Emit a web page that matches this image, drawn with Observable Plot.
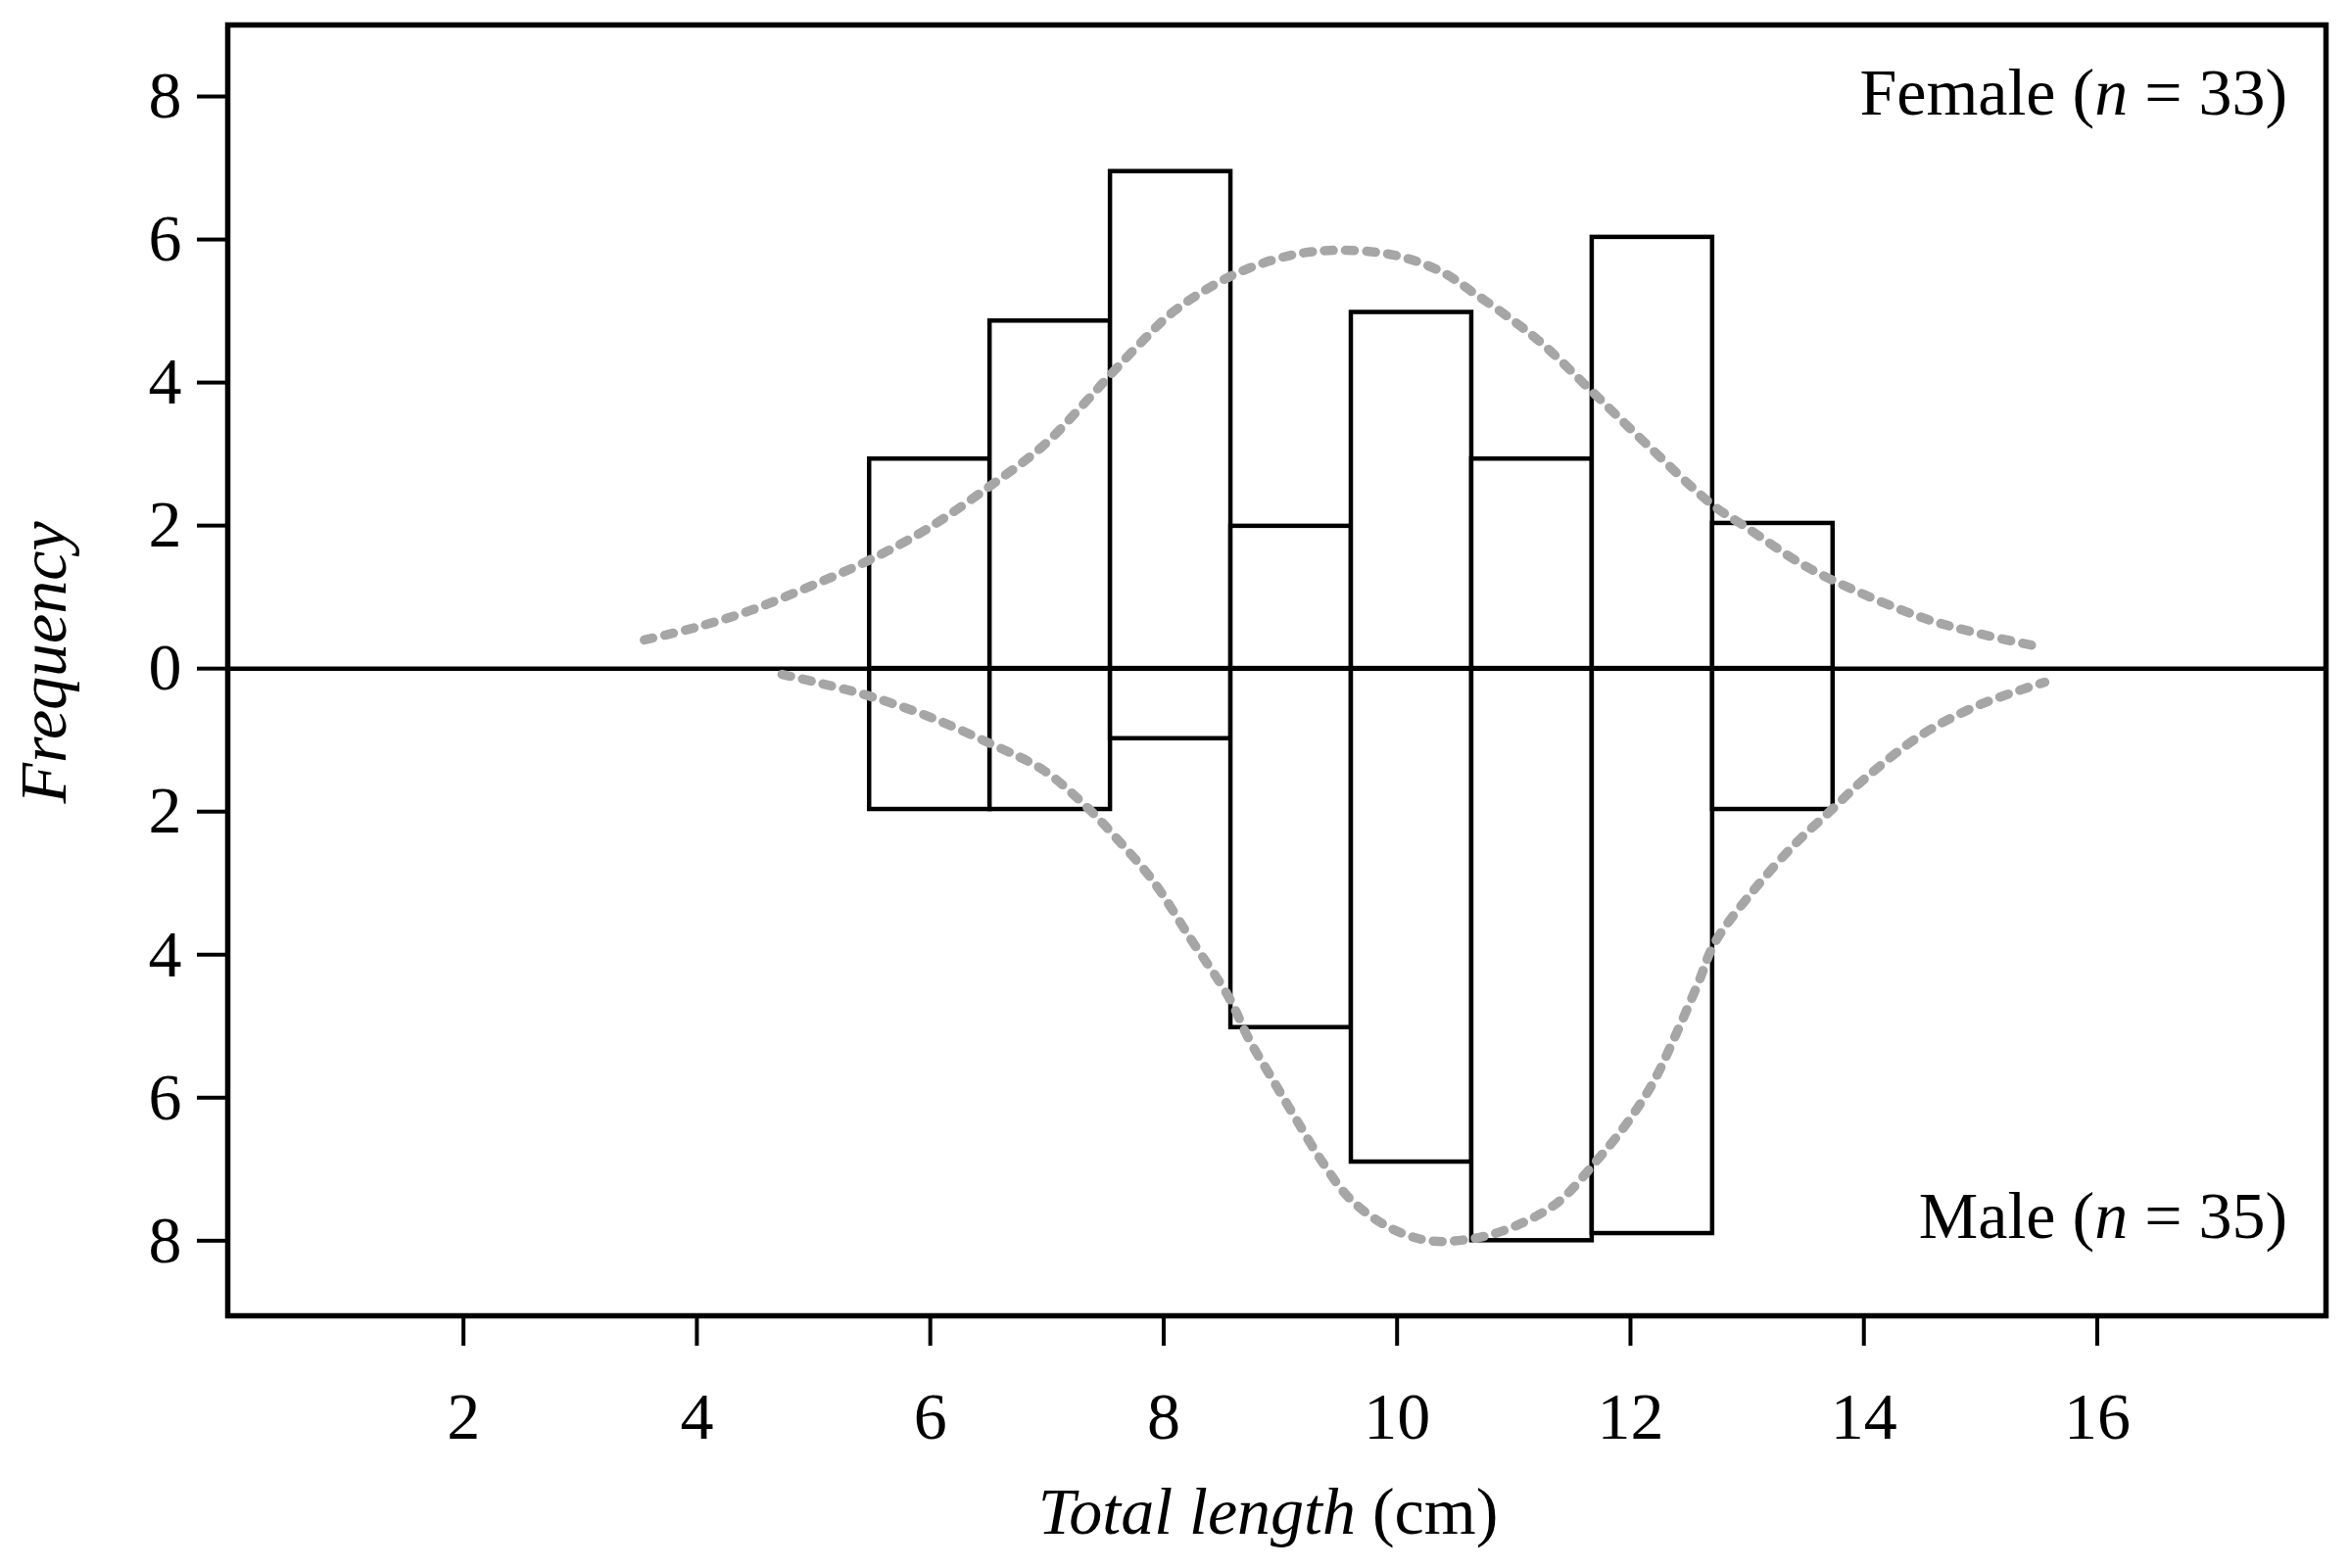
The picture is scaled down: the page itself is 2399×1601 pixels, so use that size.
<!DOCTYPE html>
<html>
<head>
<meta charset="utf-8">
<script src="https://cdn.jsdelivr.net/npm/d3@7"></script>
<script src="https://cdn.jsdelivr.net/npm/@observablehq/plot@0.6"></script>
<style>
  html, body { margin: 0; padding: 0; background: #fff; }
  #chart svg { display: block; }
</style>
</head>
<body>
<div id="chart"></div>
<script>
// ---- data ----
const binStart = [5.48, 6.512, 7.544, 8.576, 9.608, 10.64, 11.672, 12.704];
const binEnd   = [6.512, 7.544, 8.576, 9.608, 10.64, 11.672, 12.704, 13.736];
const femaleFreq = [2.93, 4.86, 6.95, 1.99, 4.98, 2.93, 6.03, 2.03];   // n = 33
const maleFreq   = [1.97, 1.97, 0.98, 5.02, 6.90, 8.00, 7.90, 1.97];   // n = 35 (drawn downward)

const femaleCurveX = [3.55, 4.0, 4.47, 4.97, 5.48, 5.97, 6.51, 6.97, 7.32, 7.55, 7.8, 8.09, 8.59, 9.09, 9.5, 9.98, 10.38, 10.66, 11.0, 11.26, 11.68, 12.13, 12.71, 12.97, 13.47, 13.82, 14.47, 14.96, 15.52];
const femaleCurveY = [0.40, 0.58, 0.82, 1.15, 1.52, 1.95, 2.55, 3.12, 3.71, 4.12, 4.55, 5.0, 5.5, 5.78, 5.85, 5.78, 5.55, 5.25, 4.86, 4.52, 3.86, 3.15, 2.28, 2.00, 1.46, 1.17, 0.73, 0.50, 0.30];

const maleCurveX = [4.73, 5.07, 5.47, 5.97, 6.53, 6.97, 7.35, 7.6, 7.9, 8.24, 8.56, 8.73, 8.92, 9.12, 9.36, 9.6, 9.94, 10.28, 10.65, 10.99, 11.38, 11.7, 11.95, 12.19, 12.38, 12.58, 12.72, 13.03, 13.4, 13.74, 14.0, 14.5, 15.0, 15.55];
const maleCurveY = [0.08, 0.21, 0.38, 0.66, 1.06, 1.42, 1.95, 2.38, 2.95, 3.80, 4.60, 5.18, 5.71, 6.26, 6.90, 7.42, 7.82, 8.00, 7.97, 7.81, 7.46, 6.90, 6.40, 5.80, 5.15, 4.40, 3.84, 3.15, 2.47, 1.95, 1.55, 0.92, 0.50, 0.19];

const xTicks = [2, 4, 6, 8, 10, 12, 14, 16];
const yTicks = [-8, -6, -4, -2, 0, 2, 4, 6, 8];

const groupLabels = ["Female (n = 33)", "Male (n = 35)"];
const groupLabelX = [17.63, 17.63];
const groupLabelY = [8.05, -7.67];

const xLabel = "Total length (cm)";
const yLabel = "Frequency";

// ---- build tables ----
const femaleBars = binStart.map((x1, i) => ({x1, x2: binEnd[i], y: femaleFreq[i]}));
const maleBars = binStart.map((x1, i) => ({x1, x2: binEnd[i], y: -maleFreq[i]}));
const femaleCurve = femaleCurveX.map((x, i) => ({x, y: femaleCurveY[i]}));
const maleCurve = maleCurveX.map((x, i) => ({x, y: -maleCurveY[i]}));
const labelRows = groupLabels.map((t, i) => ({t, x: groupLabelX[i], y: groupLabelY[i]}));

const FS = 68;
const dotted = {stroke: "#a6a6a6", strokeWidth: 9.5, strokeDasharray: "9,12.5", curve: "catmull-rom"};

const chart = Plot.plot({
  width: 2399,
  height: 1601,
  marginLeft: 232,
  marginRight: 25,
  marginTop: 25,
  marginBottom: 258,
  style: {fontFamily: "'Liberation Serif', 'Times New Roman', serif", fontSize: FS + "px", color: "#000", background: "#fff", overflow: "visible"},
  x: {domain: [-0.02, 17.96]},
  y: {domain: [-9.05, 9.0]},
  marks: [
    Plot.rectY(femaleBars, {x1: "x1", x2: "x2", y1: 0, y2: "y", fill: "white", stroke: "black", strokeWidth: 4.5}),
    Plot.rectY(maleBars, {x1: "x1", x2: "x2", y1: 0, y2: "y", fill: "white", stroke: "black", strokeWidth: 4.5}),
    Plot.ruleY([0], {stroke: "black", strokeWidth: 4.5}),
    Plot.line(femaleCurve, {x: "x", y: "y", ...dotted}),
    Plot.line(maleCurve, {x: "x", y: "y", ...dotted}),
    Plot.frame({stroke: "black", strokeWidth: 5.5}),
    Plot.axisX({ticks: xTicks, tickSize: 31, tickPadding: 46, strokeWidth: 4, fontSize: FS, label: null}),
    Plot.axisY({ticks: yTicks, tickSize: 31, tickPadding: 16, strokeWidth: 4, fontSize: FS, label: null, tickFormat: d => String(Math.abs(d))}),
    Plot.text(labelRows, {x: "x", y: "y", text: "t", textAnchor: "end", lineAnchor: "middle", fontSize: FS}),
    Plot.text([xLabel], {frameAnchor: "bottom", textAnchor: "middle", dx: -9, dy: 201, lineAnchor: "middle", fontSize: FS}),
    Plot.text([yLabel], {frameAnchor: "left", textAnchor: "middle", dx: -187, dy: -8, rotate: -90, lineAnchor: "middle", fontSize: FS, fontStyle: "italic"})
  ]
});

// italic parts inside real text
chart.querySelectorAll("text").forEach(el => {
  const s = el.textContent;
  if (s === groupLabels[0] || s === groupLabels[1]) {
    const m = s.match(/^(.*\()n( = .*)$/);
    if (m) el.innerHTML = m[1] + '<tspan font-style="italic">n</tspan>' + m[2];
  } else if (s === xLabel) {
    el.innerHTML = '<tspan font-style="italic">Total length</tspan> (cm)';
  }
});

document.getElementById("chart").appendChild(chart);
</script>
</body>
</html>
